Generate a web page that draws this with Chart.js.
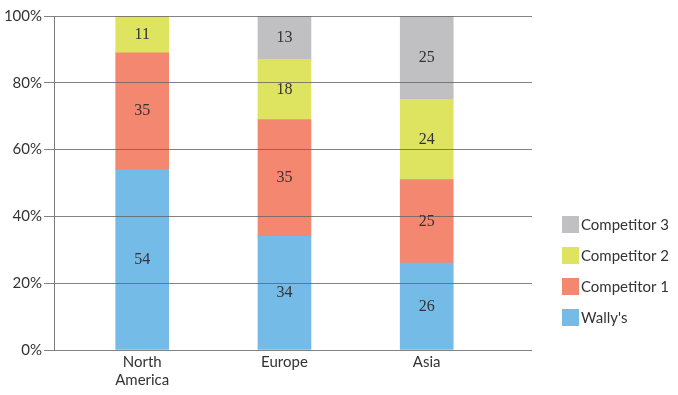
<!DOCTYPE html>
<html>
<head>
<meta charset="utf-8">
<script src="https://cdn.jsdelivr.net/npm/chart.js@4/dist/chart.umd.min.js"></script>
<style>
  html, body { margin: 0; padding: 0; background: #fff; }
  #wrap { width: 678px; height: 395px; }
</style>
</head>
<body>
<div id="wrap"><canvas id="grafico"></canvas></div>
<script>
const regioes = [["North", "America"], "Europe", "Asia"];
const wallys = [54, 34, 26];
const competitor1 = [35, 35, 25];
const competitor2 = [11, 18, 24];
const competitor3 = [0, 13, 25];
const yTicks = [0, 20, 40, 60, 80, 100];

const cores = {
    wallys: "#75bbe8",
    c1: "#f38770",
    c2: "#dee45f",
    c3: "#c0c0c2"
};

function serie(label, valores, cor) {
    return {
        label: label,
        data: valores.map((v, i) => ({ x: i, y: v })),
        backgroundColor: cor,
        barThickness: 53,
        borderWidth: 0
    };
}

// valores escritos no meio de cada barra
const rotulos = {
    id: "rotulos",
    afterDraw(chart) {
        const ctx = chart.ctx;
        ctx.save();
        ctx.font = "16px 'Liberation Serif', serif";
        ctx.fillStyle = "#333";
        ctx.textAlign = "center";
        ctx.textBaseline = "middle";
        chart.data.datasets.forEach((ds, d) => {
            chart.getDatasetMeta(d).data.forEach((bar, i) => {
                const v = ds.data[i].y;
                if (!v) return;
                ctx.fillText(v, bar.x, (bar.y + bar.base) / 2);
            });
        });
        ctx.restore();
    }
};

// legenda à direita, ordem invertida
const legenda = {
    id: "legenda",
    afterDraw(chart) {
        const ctx = chart.ctx;
        ctx.save();
        ctx.font = "15px Lato, sans-serif";
        ctx.textBaseline = "middle";
        const itens = chart.data.datasets.slice().reverse();
        itens.forEach((ds, i) => {
            const y = 216 + i * 31;
            ctx.fillStyle = ds.backgroundColor;
            ctx.fillRect(562, y, 17, 17);
            ctx.fillStyle = "#333";
            ctx.fillText(ds.label, 581, y + 9);
        });
        ctx.restore();
    }
};

const ctx = document.getElementById("grafico").getContext("2d");
new Chart(ctx, {
    type: "bar",
    data: {
        datasets: [
            serie("Wally's", wallys, cores.wallys),
            serie("Competitor 1", competitor1, cores.c1),
            serie("Competitor 2", competitor2, cores.c2),
            serie("Competitor 3", competitor3, cores.c3)
        ]
    },
    options: {
        responsive: true,
        maintainAspectRatio: false,
        animation: false,
        layout: { padding: { top: 16, right: 146, bottom: 0, left: 0 } },
        plugins: {
            legend: { display: false },
            tooltip: { enabled: false }
        },
        scales: {
            x: {
                type: "linear",
                stacked: true,
                offset: false,
                min: -0.62,
                max: 2.74,
                afterBuildTicks: scale => {
                    scale.ticks = regioes.map((r, i) => ({ value: i }));
                },
                afterFit: scale => { scale.height = 45; },
                grid: { display: false, drawTicks: false, offset: false },
                border: { display: false },
                ticks: {
                    autoSkip: false,
                    maxRotation: 0,
                    padding: 3,
                    color: "#333",
                    font: { family: "Lato", size: 15, lineHeight: 1.2 },
                    callback: value => regioes[value]
                }
            },
            y: {
                stacked: true,
                min: 0,
                max: 100,
                afterBuildTicks: scale => {
                    scale.ticks = yTicks.map(v => ({ value: v }));
                },
                afterFit: scale => { scale.width = 54; },
                grid: {
                    color: "rgba(100,100,100,0.8)",
                    lineWidth: 1,
                    tickLength: 10,
                    z: 1
                },
                border: { display: true, color: "rgba(100,100,100,0.85)", width: 1, z: 1 },
                ticks: {
                    padding: 2,
                    color: "#333",
                    font: { family: "Lato", size: 15 },
                    callback: value => value + "%"
                }
            }
        }
    },
    plugins: [rotulos, legenda]
});
</script>
</body>
</html>
